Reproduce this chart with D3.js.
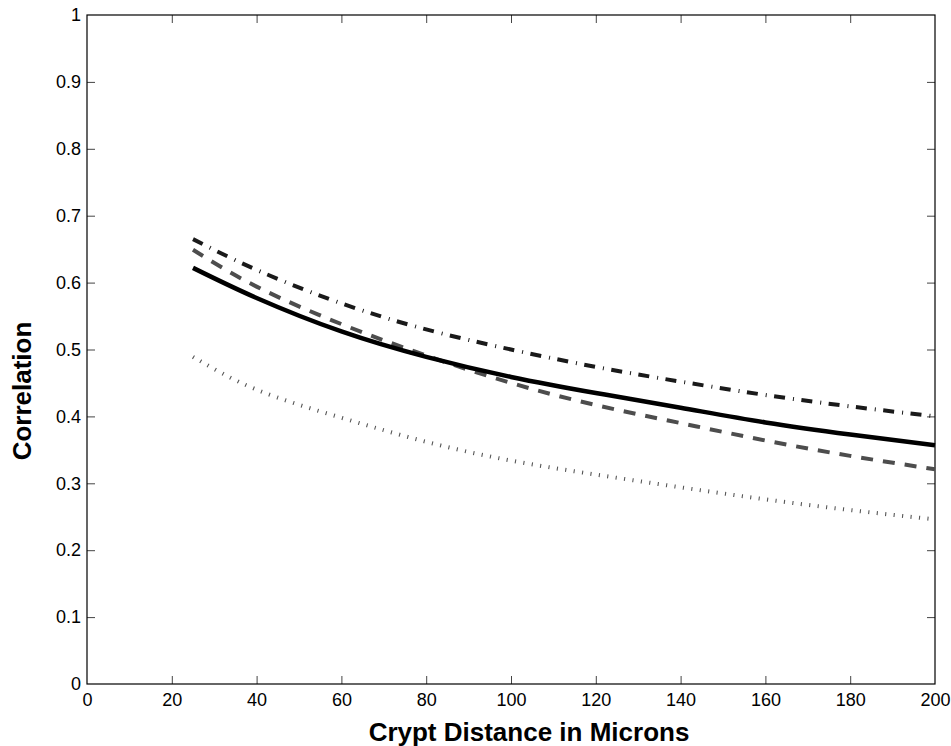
<!DOCTYPE html>
<html lang="en">
  <head>
    <meta charset="utf-8">
    <script src="https://cdnjs.cloudflare.com/ajax/libs/d3/7.8.5/d3.min.js"></script>
    <style>
      body { margin: 0; background: #fff; }
      svg { font-family: "Liberation Sans", Arial, sans-serif; }
      .axis text { font-size: 18px; fill: #000; }
      .axis line { stroke: #444; stroke-width: 1; }
      .axis path { display: none; }
      .frame { fill: none; stroke: #000; stroke-width: 1.2; }
      .label { font-size: 26px; font-weight: bold; fill: #000; }
      .series { fill: none; stroke-linecap: butt; }
    </style>
  </head>
  <body>
  <script>
  // crypt distance (microns) where each curve is sampled
  var distances = [25, 40, 60, 80, 100, 120, 140, 160, 180, 200];

  // correlation curves
  var solidValues   = [0.622, 0.577, 0.527, 0.489, 0.459, 0.435, 0.413, 0.391, 0.373, 0.357];
  var dashedValues  = [0.649, 0.594, 0.538, 0.491, 0.450, 0.417, 0.390, 0.364, 0.341, 0.321];
  var dashDotValues = [0.665, 0.619, 0.569, 0.530, 0.500, 0.474, 0.452, 0.432, 0.415, 0.400];
  var dottedValues  = [0.489, 0.440, 0.398, 0.362, 0.334, 0.313, 0.294, 0.276, 0.260, 0.246];

  var xTicks = [0, 20, 40, 60, 80, 100, 120, 140, 160, 180, 200];
  var yTicks = [0, 0.1, 0.2, 0.3, 0.4, 0.5, 0.6, 0.7, 0.8, 0.9, 1];
  var yTickLabels = ['0', '0.1', '0.2', '0.3', '0.4', '0.5', '0.6', '0.7', '0.8', '0.9', '1'];

  var width = 951,
      height = 746;

  var margin = {left: 87, top: 15, right: 16, bottom: 62};
  var w = width - margin.left - margin.right,
      h = height - margin.top - margin.bottom;

  var svg = d3.select('body')
    .append('svg')
    .attr('width', width)
    .attr('height', height);

  var g = svg.append('g')
    .attr('transform', 'translate(' + margin.left + ',' + margin.top + ')');

  var x = d3.scaleLinear().domain([0, 200]).range([0, w]);
  var y = d3.scaleLinear().domain([0, 1]).range([h, 0]);

  // matlab style: ticks point inward on all four sides
  g.append('g')
    .attr('class', 'axis')
    .attr('transform', 'translate(0,' + h + ')')
    .call(d3.axisBottom(x).tickValues(xTicks).tickSizeInner(-8).tickSizeOuter(0).tickPadding(5))
    .selectAll('text').attr('dy', '0.95em');

  g.append('g')
    .attr('class', 'axis')
    .call(d3.axisTop(x).tickValues(xTicks).tickSizeInner(-8).tickSizeOuter(0).tickFormat(''));

  g.append('g')
    .attr('class', 'axis')
    .call(d3.axisLeft(y).tickValues(yTicks).tickSizeInner(-8).tickSizeOuter(0).tickPadding(6)
      .tickFormat((d, i) => yTickLabels[i]));

  g.append('g')
    .attr('class', 'axis')
    .attr('transform', 'translate(' + w + ',0)')
    .call(d3.axisRight(y).tickValues(yTicks).tickSizeInner(-8).tickSizeOuter(0).tickFormat(''));

  // no tick marks at the corners, like the original
  g.selectAll('.axis .tick').filter(d => d === 0 || d === 200 || d === 1)
    .select('line').remove();

  g.append('rect')
    .attr('class', 'frame')
    .attr('width', w)
    .attr('height', h);

  var line = d3.line()
    .x(d => x(d[0]))
    .y(d => y(d[1]))
    .curve(d3.curveNatural);

  var series = [
    {values: dottedValues,  color: '#555', width: 4,   dash: '1.1,7.4'},
    {values: dashedValues,  color: '#4d4d4d', width: 4,   dash: '12,10'},
    {values: solidValues,   color: '#000',    width: 4.5, dash: null},
    {values: dashDotValues, color: '#1a1a1a', width: 4,   dash: '11,8,1,7.5'}
  ];

  g.selectAll('.series')
    .data(series)
    .enter().append('path')
    .attr('class', 'series')
    .attr('d', s => line(distances.map((d, i) => [d, s.values[i]])))
    .attr('stroke', s => s.color)
    .attr('stroke-width', s => s.width)
    .attr('stroke-dasharray', s => s.dash);

  svg.append('text')
    .attr('class', 'label')
    .attr('x', 529)
    .attr('y', 741)
    .attr('text-anchor', 'middle')
    .text('Crypt Distance in Microns');

  svg.append('text')
    .attr('class', 'label')
    .attr('transform', 'translate(31,391) rotate(-90)')
    .attr('text-anchor', 'middle')
    .text('Correlation');

  </script>
  </body>
</html>
